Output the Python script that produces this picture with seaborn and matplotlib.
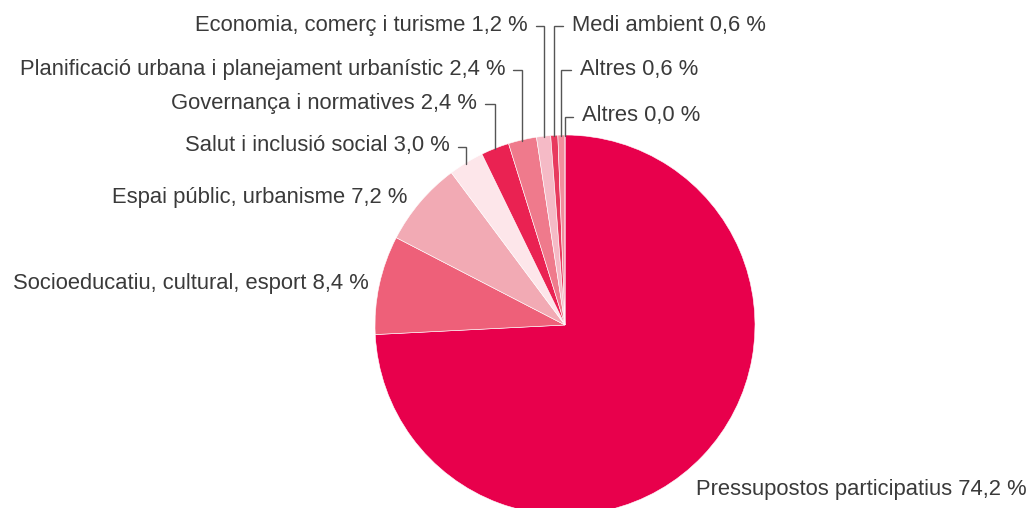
import numpy as np
import matplotlib
matplotlib.use("Agg")
import matplotlib.pyplot as plt
import seaborn as sns

# -----------------------------
# Data
# -----------------------------

categories = [
    "Pressupostos participatius",
    "Socioeducatiu, cultural, esport",
    "Espai públic, urbanisme",
    "Salut i inclusió social",
    "Governança i normatives",
    "Planificació urbana i planejament urbanístic",
    "Economia, comerç i turisme",
    "Medi ambient",
    "Altres",
    "Altres",
]
values = [74.2, 8.4, 7.2, 3.0, 2.4, 2.4, 1.2, 0.6, 0.6, 0.0]
colors = ["#E8004C", "#EE6079", "#F2AAB4", "#FDE6EA", "#EA2252",
          "#EF7A8C", "#F5BAC6", "#E83A5E", "#F28C9C", "#EE6079"]

# -----------------------------
# Layout (pixel coords, y down)
# -----------------------------

W, H = 1030, 508
CX, CY, R = 565, 325, 190

# (text x, text y, align, leader side)
label_pos = [
    (696, 490, "left", None),
    (369, 284, "right", None),
    (407, 197, "right", None),
    (450, 146, "right", "left"),
    (477, 103, "right", "left"),
    (505, 69, "right", "left"),
    (528, 25, "right", "left"),
    (572, 25, "left", "right"),
    (580, 69, "left", "right"),
    (582, 116, "left", "right"),
]

sns.set_theme(style="white")
plt.rcParams["font.family"] = ["Liberation Sans", "DejaVu Sans"]

fig = plt.figure(figsize=(W / 100, H / 100), dpi=100)
ax = fig.add_axes([0, 0, 1, 1])


def py(y):
    return H - y


ax.pie(values, colors=colors, startangle=90, counterclock=False,
       center=(CX, py(CY)), radius=R, frame=True,
       wedgeprops=dict(edgecolor="white", linewidth=0.4))
ax.set_xlim(0, W)
ax.set_ylim(0, H)
ax.set_aspect("equal")
ax.axis("off")

# -----------------------------
# Labels and leader lines
# -----------------------------

total = sum(values)
cum = np.cumsum([0] + values)
line_col = "#555555"

for i, (cat, val) in enumerate(zip(categories, values)):
    tx, ty, ha, leader = label_pos[i]
    txt = f"{cat} {val:.1f} %".replace(".", ",")
    ax.text(tx, py(ty), txt, ha=ha, va="center", fontsize=15.8,
            color="#3a3a3a")
    if leader is None:
        continue
    mid = (cum[i] + cum[i + 1]) / 2 / total * 2 * np.pi
    lx = CX + R * np.sin(mid)
    ly_edge = CY - R * np.cos(mid)
    tick_y = ty + 1
    x0 = tx + 8 if leader == "left" else tx - 9
    ax.plot([x0, lx, lx], [py(tick_y), py(tick_y), py(ly_edge + 1)],
            color=line_col, lw=1.0, solid_joinstyle="miter")

fig.savefig("out.png", dpi=100)
